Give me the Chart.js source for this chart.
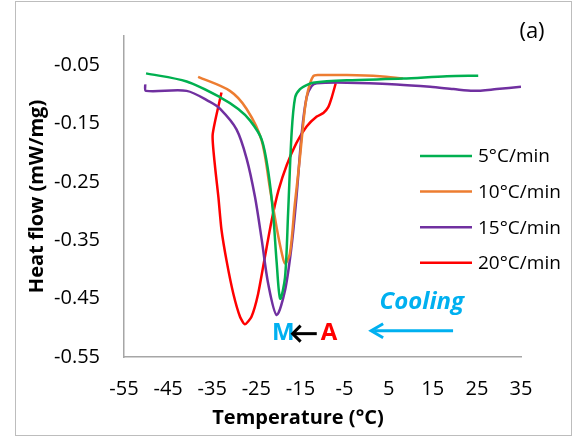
<!DOCTYPE html>
<html>
<head>
<meta charset="utf-8">
<script src="https://cdn.jsdelivr.net/npm/chart.js@4/dist/chart.umd.min.js"></script>
<style>
  html, body { margin: 0; padding: 0; background: #fff; }
  #wrap { position: relative; width: 573px; height: 438px; }
  #frame { position: absolute; left: 15px; top: 1px; width: 557px; height: 435px;
           border: 1px solid #bdbdbd; box-sizing: border-box; pointer-events: none; }
  canvas { position: absolute; left: 0; top: 0; }
</style>
</head>
<body>
<div id="wrap">
  <canvas id="dscChart" width="573" height="438"></canvas>
  <div id="frame"></div>
</div>
<script>
// Tick labels
const xTicks = [-55, -45, -35, -25, -15, -5, 5, 15, 25, 35];
const yTicks = [-0.55, -0.45, -0.35, -0.25, -0.15, -0.05];

// 5 °C/min
const temp5 = [-50.0, -40.8, -33.2, -29.1, -26.4, -23.8, -22.3, -21.2, -20.4, -19.6, -18.5, -17.8, -17.0, -16.2, -15.1, -13.6, -12.2, -4.5, 8.2, 18.2, 25.3];
const flow5 = [-0.064, -0.078, -0.105, -0.125, -0.145, -0.177, -0.232, -0.304, -0.387, -0.450, -0.414, -0.304, -0.166, -0.105, -0.091, -0.084, -0.080, -0.076, -0.073, -0.069, -0.068];

// 10 °C/min
const temp10 = [-38.2, -31.0, -27.2, -23.8, -21.9, -20.4, -19.2, -18.5, -17.4, -16.3, -15.1, -14.0, -13.2, -12.1, -11.0, -4.5, 3.0, 8.2];
const flow10 = [-0.070, -0.094, -0.125, -0.179, -0.262, -0.328, -0.373, -0.390, -0.373, -0.290, -0.207, -0.125, -0.091, -0.069, -0.067, -0.067, -0.069, -0.073];

// 15 °C/min
const temp15 = [-50.2, -50.0, -40.8, -35.5, -33.2, -29.5, -27.2, -25.3, -23.8, -22.3, -20.4, -18.5, -17.0, -15.9, -14.7, -13.6, -12.5, -11.3, -4.5, 6.8, 14.4, 19.7, 24.2, 29.5, 35.0];
const flow15 = [-0.083, -0.094, -0.094, -0.113, -0.125, -0.160, -0.210, -0.276, -0.348, -0.425, -0.478, -0.436, -0.359, -0.276, -0.166, -0.105, -0.086, -0.081, -0.080, -0.083, -0.087, -0.091, -0.094, -0.091, -0.087];

// 20 °C/min
const temp20 = [-32.9, -34.9, -34.4, -33.6, -32.9, -31.7, -30.2, -28.7, -27.6, -26.1, -24.6, -23.0, -21.5, -20.0, -18.1, -15.9, -13.6, -11.3, -9.8, -8.7, -7.9, -7.0];
const flow20 = [-0.097, -0.169, -0.221, -0.276, -0.332, -0.387, -0.442, -0.481, -0.494, -0.481, -0.442, -0.376, -0.315, -0.265, -0.221, -0.183, -0.155, -0.138, -0.132, -0.122, -0.105, -0.081];

const seriesLabels = ['5°C/min', '10°C/min', '15°C/min', '20°C/min'];
const seriesColors = ['#00B050', '#ED7D31', '#7030A0', '#FF0000'];

const FONT = '"Open Sans", "Liberation Sans", sans-serif';

function zip(xs, ys) {
    return xs.map((x, i) => ({ x: x, y: ys[i] }));
}

function makeDataset(i, xs, ys, tension) {
    return {
        label: seriesLabels[i],
        data: zip(xs, ys),
        borderColor: seriesColors[i],
        backgroundColor: seriesColors[i],
        borderWidth: 2.5,
        pointRadius: 0,
        showLine: true,
        tension: tension,
        fill: false
    };
}

// Legend, x axis title, panel label and the cooling / M<-A notes
const overlayPlugin = {
    id: 'overlay',
    afterDraw(chart) {
        const ctx = chart.ctx;
        const xs = chart.scales.x;
        const ys = chart.scales.y;
        ctx.save();

        // legend inside the plot area
        ctx.font = '19px ' + FONT;
        ctx.textBaseline = 'middle';
        ctx.textAlign = 'left';
        chart.data.datasets.forEach((ds, i) => {
            const y = 156 + i * 35.6;
            ctx.strokeStyle = ds.borderColor;
            ctx.lineWidth = 2.5;
            ctx.beginPath();
            ctx.moveTo(420, y);
            ctx.lineTo(472, y);
            ctx.stroke();
            ctx.fillStyle = '#000';
            ctx.fillText(ds.label, 478, y + 1);
        });

        // x axis title
        ctx.font = 'bold 20px ' + FONT;
        ctx.textAlign = 'center';
        ctx.fillStyle = '#000';
        ctx.fillText('Temperature (°C)', 298, 418);

        // panel label
        ctx.font = '22px ' + FONT;
        ctx.fillText('(a)', 532, 32);

        // Cooling text and arrow
        ctx.fillStyle = '#00B0F0';
        ctx.font = 'italic bold 24px ' + FONT;
        ctx.fillText('Cooling', xs.getPixelForValue(12.5), ys.getPixelForValue(-0.456));
        const ay = ys.getPixelForValue(-0.505);
        const ax0 = xs.getPixelForValue(19.6);
        const ax1 = xs.getPixelForValue(0.8);
        ctx.strokeStyle = '#00B0F0';
        ctx.lineWidth = 3;
        ctx.beginPath();
        ctx.moveTo(ax0, ay);
        ctx.lineTo(ax1 + 4, ay);
        ctx.stroke();
        ctx.beginPath();
        ctx.moveTo(ax1 + 13, ay - 7);
        ctx.lineTo(ax1 + 1, ay);
        ctx.lineTo(ax1 + 13, ay + 7);
        ctx.stroke();

        // M <- A
        const my = ys.getPixelForValue(-0.510);
        ctx.font = 'bold 24px ' + FONT;
        ctx.fillStyle = '#00B0F0';
        ctx.fillText('M', xs.getPixelForValue(-18.9), my);
        ctx.fillStyle = '#FF0000';
        ctx.fillText('A', xs.getPixelForValue(-8.5), my);
        const b0 = xs.getPixelForValue(-17.0);
        const b1 = xs.getPixelForValue(-11.3);
        ctx.strokeStyle = '#000';
        ctx.lineWidth = 3;
        ctx.beginPath();
        ctx.moveTo(b1, my);
        ctx.lineTo(b0 + 2, my);
        ctx.stroke();
        ctx.beginPath();
        ctx.moveTo(b0 + 9, my - 8);
        ctx.lineTo(b0 + 1, my);
        ctx.lineTo(b0 + 9, my + 8);
        ctx.stroke();

        ctx.restore();
    }
};

function initChart() {
    const ctx = document.getElementById('dscChart');

    new Chart(ctx, {
        type: 'scatter',
        data: {
            datasets: [
                makeDataset(0, temp5, flow5, 0.3),
                makeDataset(1, temp10, flow10, 0.3),
                makeDataset(2, temp15, flow15, 0.3),
                makeDataset(3, temp20, flow20, 0.2)
            ]
        },
        options: {
            responsive: false,
            animation: false,
            layout: { padding: { top: 25, right: 52, left: 0, bottom: 0 } },
            plugins: {
                legend: { display: false },
                tooltip: { enabled: false }
            },
            scales: {
                x: {
                    type: 'linear',
                    min: -55,
                    max: 35,
                    afterBuildTicks: scale => { scale.ticks = xTicks.map(v => ({ value: v })); },
                    afterFit: scale => { scale.height = 81; },
                    grid: { drawOnChartArea: false, drawTicks: false },
                    border: { display: true, color: '#a6a6a6', width: 1.5 },
                    ticks: {
                        padding: 20,
                        color: '#000',
                        font: { family: FONT, size: 20 },
                        callback: v => String(v)
                    }
                },
                y: {
                    type: 'linear',
                    min: -0.55,
                    max: 0,
                    afterBuildTicks: scale => { scale.ticks = yTicks.map(v => ({ value: v })); },
                    afterFit: scale => { scale.width = 124; },
                    grid: { drawOnChartArea: false, drawTicks: false },
                    border: { display: true, color: '#a6a6a6', width: 1.5 },
                    title: {
                        display: true,
                        text: 'Heat flow (mW/mg)',
                        color: '#000',
                        font: { family: FONT, size: 20, weight: 'bold' },
                        padding: { top: 25, bottom: 0 }
                    },
                    ticks: {
                        padding: 24,
                        color: '#000',
                        font: { family: FONT, size: 20 },
                        callback: v => v.toFixed(2)
                    }
                }
            }
        },
        plugins: [overlayPlugin]
    });
}

document.addEventListener('DOMContentLoaded', initChart);
</script>
</body>
</html>
